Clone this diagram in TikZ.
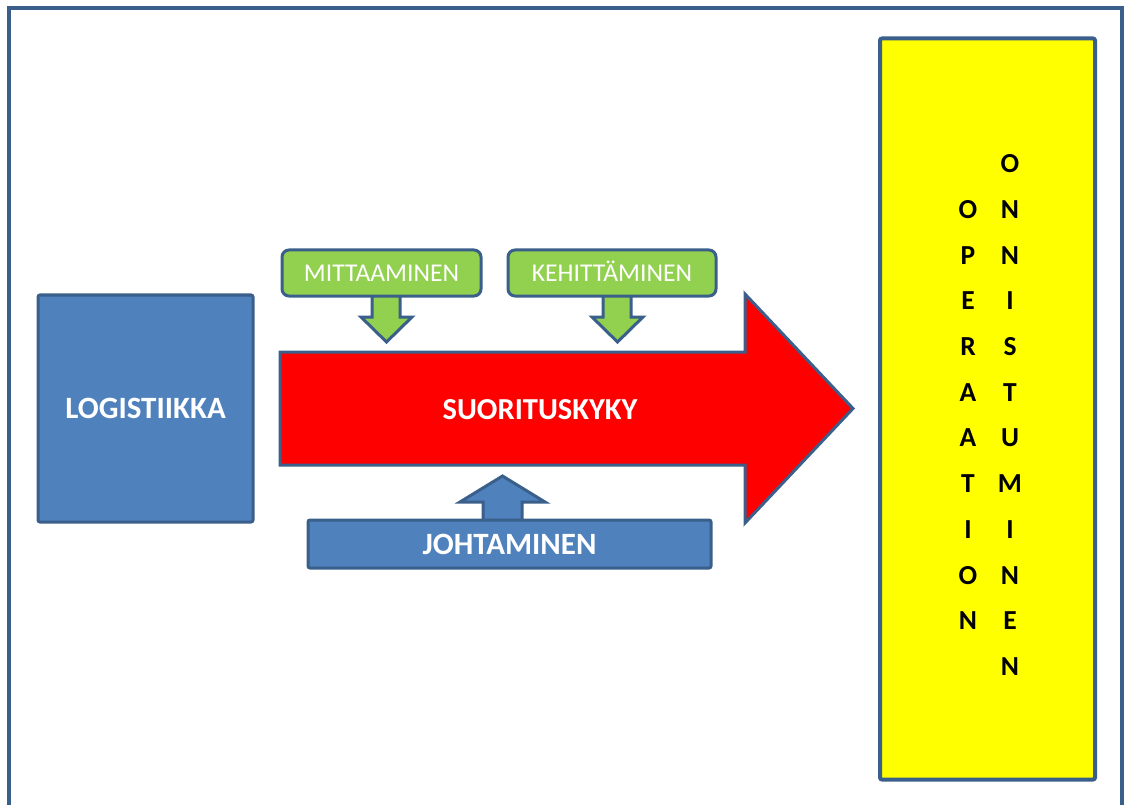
\documentclass[tikz,border=0pt]{standalone}
\usepackage{fontspec}
\setmainfont{Carlito}
\definecolor{edgeblue}{HTML}{3A5F8B}
\definecolor{fillblue}{HTML}{4F81BD}
\definecolor{fillgreen}{HTML}{92D050}
\definecolor{fillred}{HTML}{FF0000}
\definecolor{fillyellow}{HTML}{FFFF00}
\tikzset{
  frameline/.style={draw=edgeblue, line width=4pt},
  bluebox/.style={draw=edgeblue, fill=fillblue, line width=3pt, rounded corners=2pt,
    text=white, font=\fontsize{31}{32}\selectfont\bfseries, inner sep=0pt,
    text height=20pt, text depth=0pt},
  greenbox/.style={draw=edgeblue, fill=fillgreen, line width=3pt, rounded corners=7pt,
    text=white, font=\fontsize{25.6}{26}\selectfont, inner sep=0pt,
    text height=16.5pt, text depth=0pt},
  greenarrow/.style={draw=edgeblue, fill=fillgreen, line width=3pt, line join=miter},
  bluearrow/.style={draw=edgeblue, fill=fillblue, line width=3pt, line join=miter},
  bigarrow/.style={draw=edgeblue, fill=fillred, line width=3pt, line join=miter},
  goalbox/.style={draw=edgeblue, fill=fillyellow, line width=4pt, rounded corners=2pt, inner sep=0pt},
  letter/.style={font=\fontsize{27.5}{28}\selectfont\bfseries, inner sep=0pt, anchor=center},
  label text/.style={text=white, font=\fontsize{30.5}{31}\selectfont\bfseries, inner sep=0pt,
    text height=19.6pt, text depth=0pt}
}
\begin{document}
\begin{tikzpicture}[x=1pt, y=-1pt]
  \useasboundingbox (0,0) rectangle (1125,805);
  % outer frame (its lower edge runs off the page)
  \begin{scope}
    \clip (0,0) rectangle (1125,805);
    \draw[frameline] (9,8) rectangle (1122,830);
  \end{scope}

  % goal column
  \node[goalbox, minimum width=215pt, minimum height=741pt] (goal) at (987.5,409) {};
  \foreach \c [count=\i from 0] in {O,P,E,R,A,A,T,I,O,N}
    \node[letter] (op\i) at (968,209.5+45.7*\i) {\c};
  \foreach \c [count=\i from 0] in {O,N,N,I,S,T,U,M,I,N,E,N}
    \node[letter] (on\i) at (1010,163.8+45.7*\i) {\c};

  % main performance arrow
  \draw[bigarrow] (280,352) -- (745,352) -- (745,294) -- (853,408.5)
    -- (745,523) -- (745,465) -- (280,465) -- cycle;
  \node[label text] (perf) at (540,410) {SUORITUSKYKY};

  % input arrows (drawn under their boxes)
  \draw[greenarrow] (372,294) -- (372,317) -- (361,317) -- (386.5,342)
    -- (412,317) -- (400,317) -- (400,294) -- cycle;
  \draw[greenarrow] (603,294) -- (603,317) -- (592,317) -- (617.5,342)
    -- (643,317) -- (631,317) -- (631,294) -- cycle;
  \draw[bluearrow] (483,522) -- (483,502) -- (460,502) -- (502.5,476)
    -- (545,502) -- (522,502) -- (522,522) -- cycle;

  % boxes
  \node[bluebox, minimum width=215pt, minimum height=227pt] (log) at (145.5,408.5) {LOGISTIIKKA};
  \node[greenbox, minimum width=199pt, minimum height=46pt] (mit) at (381.5,273) {MITTAAMINEN};
  \node[greenbox, minimum width=208pt, minimum height=46pt] (keh) at (612,273) {KEHITTÄMINEN};
  \node[bluebox, minimum width=403pt, minimum height=48pt] (joh) at (509.5,544) {JOHTAMINEN};
\end{tikzpicture}
\end{document}
